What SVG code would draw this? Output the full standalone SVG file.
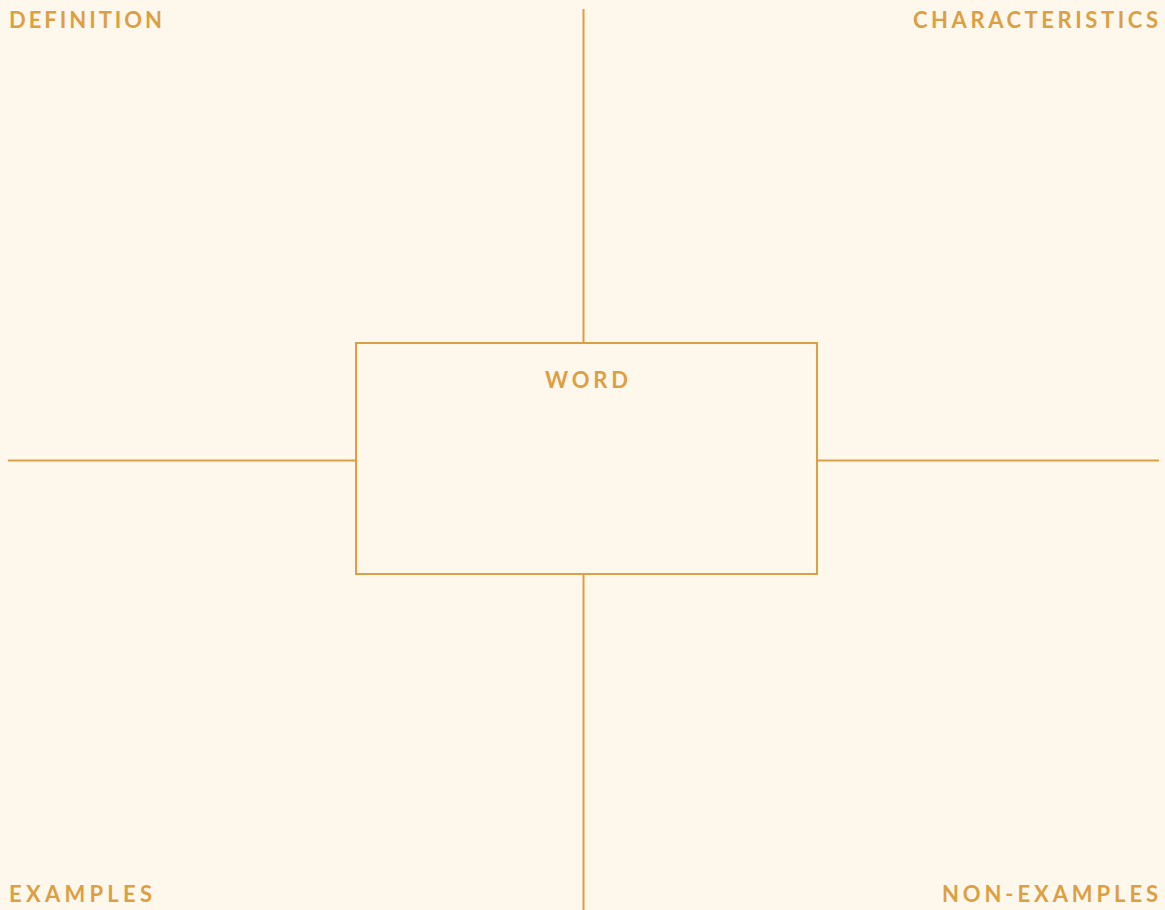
<svg xmlns="http://www.w3.org/2000/svg" width="1165" height="910" viewBox="0 0 1165 910">
<style>
.bg{fill:#FEF7EC}
.ln{stroke:#DBA043;stroke-width:2;fill:none}
.lbl{font-family:Lato,"Open Sans","Liberation Sans",sans-serif;font-size:22px;font-weight:bold;fill:#DBA043}
</style>
<rect class="bg" x="0" y="0" width="1165" height="910"/>
<g id="connectors">
<line class="ln" x1="583.5" y1="9" x2="583.5" y2="343"/>
<line class="ln" x1="583.5" y1="574" x2="583.5" y2="910"/>
<line class="ln" x1="8" y1="460.5" x2="356" y2="460.5"/>
<line class="ln" x1="817" y1="460.5" x2="1159" y2="460.5"/>
</g>
<g id="word">
<rect class="ln" x="356" y="343" width="461" height="231"/>
<text class="lbl" x="545" y="388" textLength="83" lengthAdjust="spacing">WORD</text>
</g>
<g id="definition"><text class="lbl" x="9" y="28" textLength="153" lengthAdjust="spacing">DEFINITION</text></g>
<g id="characteristics"><text class="lbl" x="913" y="28" textLength="245" lengthAdjust="spacing">CHARACTERISTICS</text></g>
<g id="examples"><text class="lbl" x="9" y="902" textLength="143" lengthAdjust="spacing">EXAMPLES</text></g>
<g id="nonexamples"><text class="lbl" x="942" y="902" textLength="216" lengthAdjust="spacing">NON-EXAMPLES</text></g>
</svg>
